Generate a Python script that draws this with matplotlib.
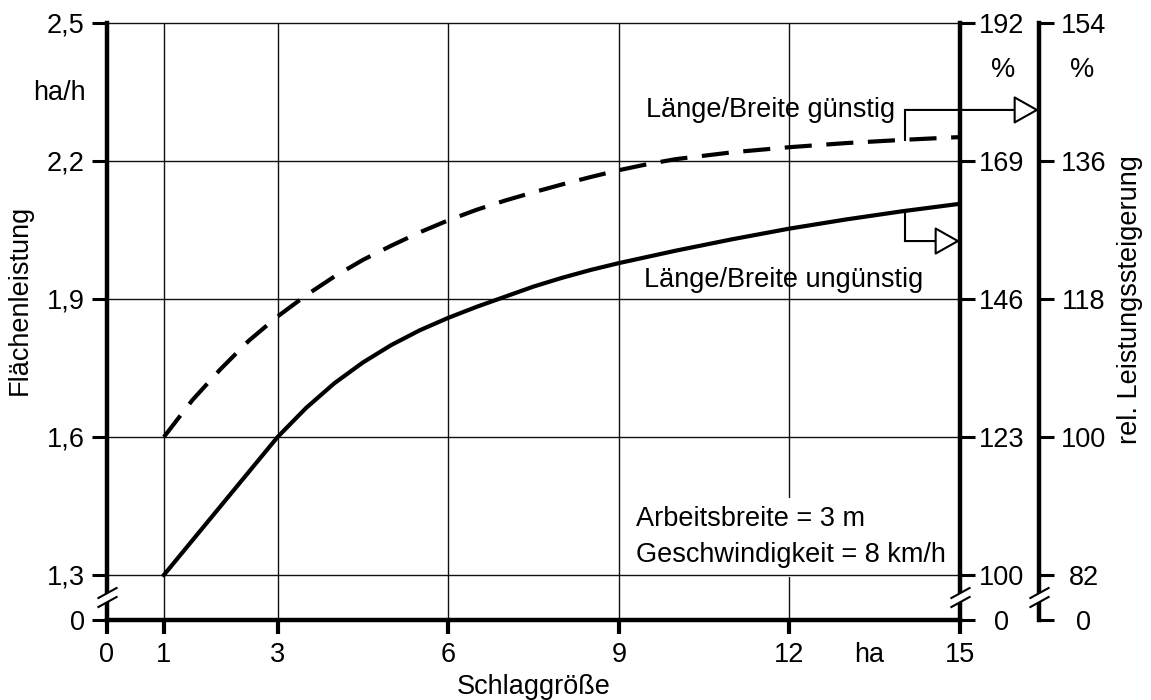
import matplotlib
matplotlib.use('Agg')
import matplotlib.pyplot as plt
import numpy as np
from matplotlib.path import Path
from matplotlib.transforms import blended_transform_factory

plt.rcParams['font.family'] = ['Liberation Sans', 'DejaVu Sans']
plt.rcParams['font.size'] = 19.5

# Flächenleistung (ha/h) ueber Schlaggroesse (ha)
x_guenstig = [1, 1.5, 2, 2.5, 3, 3.5, 4, 4.5, 5, 5.5, 6, 6.5, 7, 7.5, 8, 8.5,
              9, 9.5, 10, 11, 12, 13, 14, 15]
y_guenstig = [1.600, 1.680, 1.748, 1.810, 1.862, 1.908, 1.949, 1.985, 2.016,
              2.045, 2.071, 2.094, 2.114, 2.132, 2.149, 2.165, 2.180, 2.193,
              2.204, 2.219, 2.230, 2.239, 2.246, 2.252]

x_unguenstig = [1, 2, 3, 3.5, 4, 4.5, 5, 5.5, 6, 6.5, 7, 7.5, 8, 8.5, 9, 10,
                11, 12, 13, 14, 15]
y_unguenstig = [1.300, 1.450, 1.600, 1.663, 1.717, 1.762, 1.800, 1.832, 1.859,
                1.883, 1.905, 1.927, 1.946, 1.963, 1.978, 2.005, 2.030, 2.053,
                2.073, 2.091, 2.107]

x_ticks = [0, 1, 3, 6, 9, 12, 15]
x_grid = [1, 3, 6, 9, 12]
y_ticks = [1.3, 1.6, 1.9, 2.2, 2.5]
y_labels_left = ['1,3', '1,6', '1,9', '2,2', '2,5']
y_labels_r1 = ['100', '123', '146', '169', '192']   # %
y_labels_r2 = ['82', '100', '118', '136', '154']    # %

# unterbrochene Achse: die "0" sitzt knapp unter 1,3
y_zero = 1.3 - 45 / 460
y_break = 1.3 - 22 / 460

fig = plt.figure(figsize=(11.51, 7.0), dpi=100)
ax = fig.add_axes([107 / 1151, 80 / 700, 853 / 1151, 597 / 700])
ax.set_xlim(0, 15)
ax.set_ylim(y_zero, 2.5)

for s in ['top', 'right']:
    ax.spines[s].set_visible(False)
for s in ['left', 'bottom']:
    ax.spines[s].set_linewidth(3.2)

ax.set_xticks(x_ticks, [str(v) for v in x_ticks])
ax.set_xticks([13.4], ['ha'], minor=True)
ax.tick_params(axis='x', which='major', direction='out', length=10, width=3, pad=6)
ax.tick_params(axis='x', which='minor', length=0, pad=16)
ax.set_yticks([y_zero] + y_ticks, ['0'] + y_labels_left)
ax.tick_params(axis='y', direction='out', length=11, width=2.2, pad=5)

# Gitter
for xv in x_grid:
    ax.axvline(xv, color='#111111', lw=1.0, zorder=1)
for yv in y_ticks:
    ax.axhline(yv, color='#111111', lw=1.0, zorder=2.5, clip_on=False)

# Kurven
ax.plot(x_guenstig, y_guenstig, color='k', lw=3, dashes=(6.5, 3.5), zorder=3)
ax.plot(x_unguenstig, y_unguenstig, color='k', lw=3, zorder=3)

# rechte Achsen
ax2 = ax.twinx()
ax2.set_ylim(ax.get_ylim())
ax3 = ax.twinx()
ax3.set_ylim(ax.get_ylim())
r2_pos = 932 / 853
ax3.spines['right'].set_position(('axes', r2_pos))
for a, labels, pad in [(ax2, y_labels_r1, 19), (ax3, y_labels_r2, 21)]:
    for s in ['left', 'top', 'bottom']:
        a.spines[s].set_visible(False)
    a.spines['right'].set_linewidth(3.2)
    a.set_yticks([y_zero] + y_ticks, ['0'] + labels)
    a.tick_params(axis='y', direction='out', length=11, width=2.2, pad=pad)
    for lbl in a.get_yticklabels():
        lbl.set_horizontalalignment('center')

# Achsenbrueche
axy = blended_transform_factory(ax.transAxes, ax.transData)
slashes = Path([(-1, -1.0), (1, 0.1), (-1, -0.1), (1, 1.0)],
               [Path.MOVETO, Path.LINETO, Path.MOVETO, Path.LINETO])
gap = [(-1, -1.0), (1, 0.1), (1, 1.0), (-1, -0.1)]
for xb in [0, 1, r2_pos]:
    ax3.plot([xb], [y_break], marker=gap, ms=14.4, mfc='white', mew=0,
             ls='none', transform=axy, clip_on=False, zorder=6)
    ax3.plot([xb], [y_break], marker=slashes, ms=14.4, mec='k', mew=1.5,
             ls='none', transform=axy, clip_on=False, zorder=7)

# Beschriftungen der Kurven mit Zeigern
lx = 14.03
yg_lab = 2.311
yu_lab = 2.026
ax.plot([lx, lx], [np.interp(lx, x_guenstig, y_guenstig), yg_lab], color='k', lw=1.5, zorder=4)
ax.plot([lx, lx], [np.interp(lx, x_unguenstig, y_unguenstig), yu_lab], color='k', lw=1.5, zorder=4)
arrow = dict(arrowstyle='-|>,head_length=0.8,head_width=0.45', mutation_scale=20,
             fc='white', ec='k', lw=1.5, shrinkA=0, shrinkB=0)
ax.annotate('', xy=(r2_pos, yg_lab), xycoords=axy, xytext=(lx, yg_lab),
            textcoords='data', arrowprops=arrow, annotation_clip=False, zorder=4)
ax.annotate('', xy=(1.0, yu_lab), xycoords=axy, xytext=(lx, yu_lab),
            textcoords='data', arrowprops=arrow, annotation_clip=False, zorder=4)

ax.text(13.86, 2.31, 'Länge/Breite günstig', ha='right', va='center', zorder=4)
ax.text(14.35, 1.941, 'Länge/Breite ungünstig', ha='right', va='center', zorder=4)

ax.text(9.3, 1.382, 'Arbeitsbreite = 3 m\nGeschwindigkeit = 8 km/h', ha='left',
        va='center', linespacing=1.5, zorder=2,
        bbox=dict(fc='white', ec='none', pad=6))

# Einheiten und Achsentitel
ax.text(-0.83, 2.348, 'ha/h', ha='center', va='center', clip_on=False)
ax.text(15.76, 2.398, '%', ha='center', va='center', clip_on=False)
ax.text(17.14, 2.398, '%', ha='center', va='center', clip_on=False)
fig.text(534 / 1151, 1 - 687 / 700, 'Schlaggröße', ha='center', va='center')
fig.text(20 / 1151, 1 - 300 / 700, 'Flächenleistung', ha='center', va='center',
         rotation=90)
fig.text(1130 / 1151, 1 - 300 / 700, 'rel. Leistungssteigerung', ha='center',
         va='center', rotation=90)

fig.savefig('out.png', dpi=100)
